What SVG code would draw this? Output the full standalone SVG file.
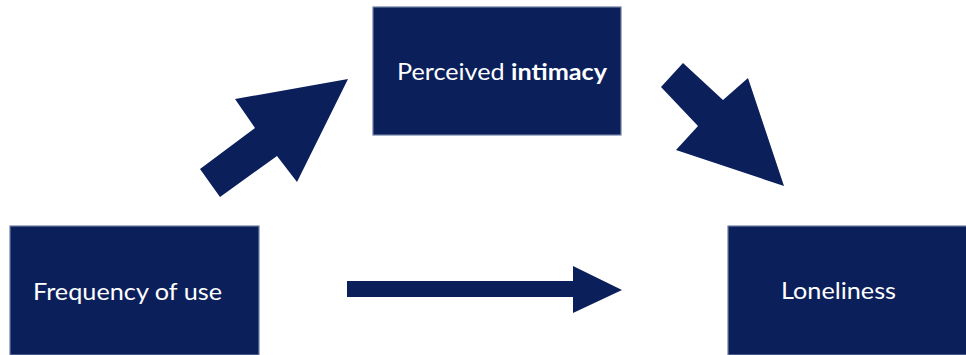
<svg xmlns="http://www.w3.org/2000/svg" width="966" height="355" viewBox="0 0 966 355">
<style>
.box{fill:#0b1f5b;stroke:#6d7fa3;stroke-width:1.2}
.lbl{fill:#ffffff;font-family:Lato,"Open Sans","Liberation Sans",sans-serif;font-size:23.5px}
.b{font-weight:bold}
.arr{fill:#0b1f5b}
</style>
<rect width="966" height="355" fill="#ffffff"/>
<g id="node-intimacy">
<rect class="box" x="373" y="7" width="248" height="128"/>
<text class="lbl" x="397" y="80" textLength="210" lengthAdjust="spacingAndGlyphs">Perceived <tspan class="b">intimacy</tspan></text>
</g>
<g id="node-frequency">
<rect class="box" x="10" y="226" width="249" height="129"/>
<text class="lbl" x="33" y="300" textLength="189" lengthAdjust="spacingAndGlyphs">Frequency of use</text>
</g>
<g id="node-loneliness">
<rect class="box" x="728" y="226" width="240" height="129"/>
<text class="lbl" x="781" y="299" textLength="115" lengthAdjust="spacingAndGlyphs">Loneliness</text>
</g>
<g id="connectors">
<polygon class="arr" points="200,169 220,197 277,156 297,182 348,79 235,99 255,128"/>
<polygon class="arr" points="683,63 661,87 698,126 676,150 784,186 748,78 723,100"/>
<polygon class="arr" points="347,281 573,281 573,266 622,290 573,313 573,297 347,297"/>
</g>
</svg>
